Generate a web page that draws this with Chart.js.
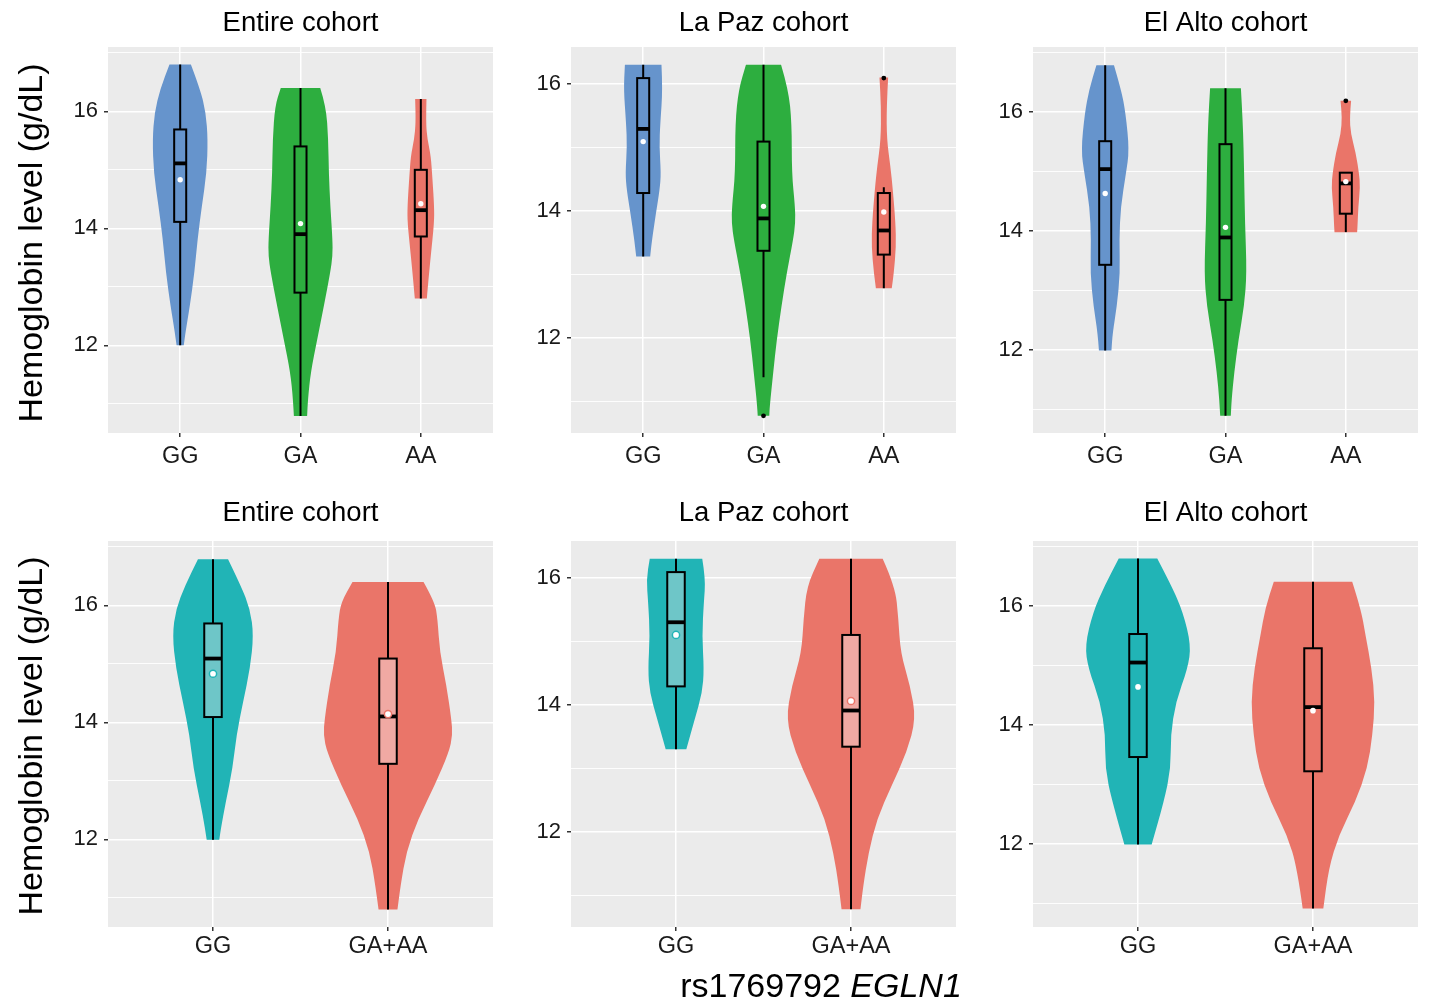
<!DOCTYPE html>
<html lang="en">
<head>
<meta charset="UTF-8">
<title>Hemoglobin level by rs1769792 EGLN1</title>
<script src="https://cdn.jsdelivr.net/npm/chart.js"></script>
<style>
  body { margin: 0; background: #fff; width: 1429px; height: 1003px; position: relative; overflow: hidden;
         font-family: "Liberation Sans", Arial, sans-serif; }
  canvas { position: absolute; }
  .ytitle { position: absolute; left: 30px; font-size: 34px; color: #000; white-space: nowrap;
            transform: translate(-50%, -50%) rotate(-90deg); }
  .xtitle { position: absolute; left: 821px; top: 985px; font-size: 34px; color: #000; white-space: nowrap;
            transform: translate(-50%, -50%); }
</style>
</head>
<body>
<canvas id="c0" width="463" height="480" style="left:40px;top:0px"></canvas>
<canvas id="c1" width="463" height="480" style="left:503px;top:0px"></canvas>
<canvas id="c2" width="463" height="480" style="left:965px;top:0px"></canvas>
<canvas id="c3" width="463" height="480" style="left:40px;top:494px"></canvas>
<canvas id="c4" width="463" height="480" style="left:503px;top:494px"></canvas>
<canvas id="c5" width="463" height="480" style="left:965px;top:494px"></canvas>
<div class="ytitle" style="top:243px">Hemoglobin level (g/dL)</div>
<div class="ytitle" style="top:736px">Hemoglobin level (g/dL)</div>
<div class="xtitle">rs1769792 <i>EGLN1</i></div>

<script>
// ---- data ----
const cohorts = ['Entire cohort', 'La Paz cohort', 'El Alto cohort'];
const genotypes3 = ['GG', 'GA', 'AA'];
const genotypes2 = ['GG', 'GA+AA'];
const yLimits = [[10.5, 17.1], [10.5, 16.58], [10.6, 17.095]];   // per cohort

// violin outlines: hemoglobin level and half-width (category units)
const entire3Levels = [
  [16.80, 16.38, 15.98, 15.52, 14.95, 14.38, 13.81, 13.25, 12.67, 12.22, 12.00],
  [16.40, 16.09, 15.52, 14.95, 14.38, 13.81, 13.53, 13.24, 12.67, 12.10, 11.54, 11.08, 10.79],
  [16.21, 15.81, 15.52, 15.24, 14.84, 14.38, 14.10, 13.53, 13.13, 12.80]
];
const entire3Widths = [
  [0.089, 0.166, 0.213, 0.230, 0.220, 0.180, 0.144, 0.119, 0.080, 0.044, 0.030],
  [0.164, 0.212, 0.231, 0.235, 0.248, 0.266, 0.267, 0.247, 0.194, 0.139, 0.085, 0.062, 0.055],
  [0.047, 0.042, 0.055, 0.083, 0.097, 0.111, 0.111, 0.083, 0.064, 0.050]
];
const lapaz3Levels = [
  [16.30, 15.91, 15.38, 15.01, 14.59, 14.33, 13.96, 13.54, 13.28],
  [16.30, 15.91, 15.38, 14.59, 14.07, 13.81, 13.54, 13.02, 12.49, 11.97, 11.44, 10.92, 10.77],
  [16.10, 15.64, 15.12, 14.70, 14.33, 13.81, 13.44, 13.02, 12.78]
];
const lapaz3Widths = [
  [0.152, 0.162, 0.142, 0.134, 0.148, 0.137, 0.106, 0.073, 0.058],
  [0.146, 0.207, 0.235, 0.235, 0.262, 0.265, 0.246, 0.193, 0.149, 0.110, 0.080, 0.052, 0.048],
  [0.036, 0.023, 0.025, 0.055, 0.075, 0.097, 0.102, 0.083, 0.066]
];
const elalto3Levels = [
  [16.79, 16.37, 15.98, 15.36, 14.97, 14.41, 13.85, 13.29, 12.73, 12.28, 11.99],
  [16.40, 15.81, 14.97, 14.13, 13.29, 12.73, 12.17, 11.61, 11.16, 10.89],
  [16.19, 15.92, 15.64, 15.31, 14.97, 14.74, 14.41, 14.07, 13.98]
];
const elalto3Widths = [
  [0.073, 0.134, 0.170, 0.200, 0.173, 0.129, 0.117, 0.124, 0.097, 0.062, 0.052],
  [0.128, 0.145, 0.155, 0.162, 0.177, 0.155, 0.108, 0.072, 0.051, 0.044],
  [0.044, 0.032, 0.041, 0.083, 0.110, 0.119, 0.104, 0.097, 0.094]
];
const entire2Levels = [
  [16.79, 16.34, 15.94, 15.49, 14.92, 14.35, 13.78, 13.21, 12.64, 12.18, 11.99],
  [16.40, 16.06, 15.77, 15.20, 14.63, 14.06, 13.78, 13.49, 12.92, 12.35, 11.79, 11.21, 10.80]
];
const entire2Widths = [
  [0.086, 0.159, 0.212, 0.232, 0.212, 0.172, 0.134, 0.112, 0.073, 0.045, 0.036],
  [0.203, 0.267, 0.283, 0.296, 0.334, 0.362, 0.369, 0.348, 0.267, 0.172, 0.105, 0.072, 0.054]
];
const lapaz2Levels = [
  [16.30, 15.98, 15.61, 15.09, 14.56, 14.19, 13.77, 13.30],
  [16.30, 15.87, 15.35, 14.82, 14.30, 13.78, 13.25, 12.72, 12.20, 11.67, 11.15, 10.78]
];
const lapaz2Widths = [
  [0.150, 0.169, 0.159, 0.149, 0.160, 0.150, 0.107, 0.059],
  [0.181, 0.252, 0.271, 0.283, 0.338, 0.371, 0.319, 0.231, 0.148, 0.100, 0.070, 0.054]
];
const elalto2Levels = [
  [16.80, 16.35, 15.90, 15.34, 14.95, 14.39, 13.83, 13.27, 12.71, 11.99],
  [16.41, 15.96, 15.51, 14.95, 14.39, 13.83, 13.27, 12.71, 12.15, 11.59, 10.91]
];
const elalto2Widths = [
  [0.110, 0.190, 0.257, 0.303, 0.284, 0.216, 0.186, 0.188, 0.148, 0.078],
  [0.224, 0.273, 0.300, 0.335, 0.354, 0.340, 0.311, 0.243, 0.148, 0.090, 0.059]
];

// boxplot: [lower whisker, Q1, median, Q3, upper whisker]
const entire3Box = [[12.00, 14.11, 15.11, 15.69, 16.80], [10.79, 12.90, 13.90, 15.40, 16.40], [12.80, 13.86, 14.31, 15.00, 16.21]];
const lapaz3Box  = [[13.28, 14.28, 15.29, 16.09, 16.30], [11.38, 13.37, 13.88, 15.09, 16.30], [12.78, 13.31, 13.69, 14.28, 14.37]];
const elalto3Box = [[11.99, 13.43, 15.04, 15.51, 16.79], [10.89, 12.84, 13.89, 15.46, 16.40], [13.98, 14.29, 14.80, 14.98, 14.98]];
const entire2Box = [[11.99, 14.09, 15.09, 15.69, 16.79], [10.80, 13.29, 14.10, 15.09, 16.40]];
const lapaz2Box  = [[13.30, 14.29, 15.30, 16.09, 16.30], [10.78, 13.34, 13.91, 15.10, 16.30]];
const elalto2Box = [[11.99, 13.46, 15.05, 15.53, 16.80], [10.91, 13.22, 14.30, 15.29, 16.41]];

const entire3Means = [14.83, 14.08, 14.42];
const lapaz3Means  = [15.09, 14.07, 13.98];
const elalto3Means = [14.63, 14.06, 14.83];
const entire2Means = [14.83, 14.14];
const lapaz2Means  = [15.10, 14.06];
const elalto2Means = [14.64, 14.24];

const lapaz3Outliers  = [[], [10.77], [16.09]];
const elalto3Outliers = [[], [], [16.19]];

// ---- colours ----
const colors3 = ['#6694CC', '#2DAE3F', '#EA7569'];
const colors2 = ['#21B4B6', '#EA7569'];
const lightBox2 = ['#6EC6C8', '#F0A9A3'];
const FONT = "'Liberation Sans', Arial, sans-serif";

// smooth one side of a violin through its sample points
function smoothSide(ctx, pts, first) {
  if (first) ctx.moveTo(pts[0][0], pts[0][1]); else ctx.lineTo(pts[0][0], pts[0][1]);
  for (let i = 1; i < pts.length - 1; i++) {
    const mx = (pts[i][0] + pts[i + 1][0]) / 2, my = (pts[i][1] + pts[i + 1][1]) / 2;
    ctx.quadraticCurveTo(pts[i][0], pts[i][1], mx, my);
  }
  const last = pts[pts.length - 1];
  ctx.lineTo(last[0], last[1]);
}

function violinPlugin(p) {
  return {
    id: 'violins',
    beforeDraw(chart) {
      const a = chart.chartArea, ctx = chart.ctx;
      ctx.save();
      ctx.fillStyle = '#EBEBEB';
      ctx.fillRect(a.left, a.top, a.right - a.left, a.bottom - a.top);
      ctx.restore();
    },
    beforeDatasetsDraw(chart) {
      const xs = chart.scales.x, ys = chart.scales.y, ctx = chart.ctx;
      ctx.save();
      p.levels.forEach((lv, g) => {
        const cx = g + 1, w = p.widths[g];
        const right = lv.map((y, i) => [xs.getPixelForValue(cx + w[i]), ys.getPixelForValue(y)]);
        const left = lv.map((y, i) => [xs.getPixelForValue(cx - w[i]), ys.getPixelForValue(y)]).reverse();
        ctx.beginPath();
        smoothSide(ctx, right, true);
        smoothSide(ctx, left, false);
        ctx.closePath();
        ctx.fillStyle = p.colors[g];
        ctx.fill();

        // box and whiskers
        const [lo, q1, med, q3, hi] = p.box[g];
        const x0 = xs.getPixelForValue(cx - 0.05), x1 = xs.getPixelForValue(cx + 0.05);
        const xc = xs.getPixelForValue(cx);
        ctx.strokeStyle = '#000';
        ctx.lineWidth = 2;
        ctx.beginPath();
        ctx.moveTo(xc, ys.getPixelForValue(hi)); ctx.lineTo(xc, ys.getPixelForValue(q3));
        ctx.moveTo(xc, ys.getPixelForValue(q1)); ctx.lineTo(xc, ys.getPixelForValue(lo));
        ctx.stroke();
        const yt = ys.getPixelForValue(q3), yb = ys.getPixelForValue(q1);
        ctx.fillStyle = p.boxFills[g];
        ctx.fillRect(x0, yt, x1 - x0, yb - yt);
        ctx.strokeRect(x0, yt, x1 - x0, yb - yt);
        ctx.lineWidth = 3.8;
        ctx.beginPath();
        ctx.moveTo(x0, ys.getPixelForValue(med)); ctx.lineTo(x1, ys.getPixelForValue(med));
        ctx.stroke();
      });
      ctx.restore();
    }
  };
}

function makePanel(id, p) {
  const n = p.groups.length;
  const yMin = p.limits[0], yMax = p.limits[1];
  new Chart(document.getElementById(id), {
    type: 'scatter',
    data: {
      datasets: [
        {
          data: p.means.map((m, i) => ({ x: i + 1, y: m })),
          pointRadius: p.meanRadius,
          pointBackgroundColor: '#fff',
          pointBorderColor: p.meanBorder,
          pointBorderWidth: p.meanBorderWidth
        },
        {
          data: p.outliers.flatMap((o, i) => o.map(v => ({ x: i + 1, y: v }))),
          pointRadius: 2.4,
          pointBackgroundColor: '#000',
          pointBorderWidth: 0
        }
      ]
    },
    options: {
      responsive: false,
      animation: false,
      events: [],
      layout: { padding: { left: 0, right: 10, top: 0, bottom: 0 } },
      plugins: {
        legend: { display: false },
        tooltip: { enabled: false },
        title: {
          display: true, text: p.title, fullSize: false, color: '#000',
          font: { family: FONT, size: 27.5, weight: 'normal', lineHeight: '33px' },
          padding: p.titlePad
        }
      },
      scales: {
        x: {
          type: 'linear', min: 0.4, max: n + 0.6,
          afterBuildTicks: s => { s.ticks = p.groups.map((_, i) => ({ value: i + 1 })); },
          afterFit: s => { s.height = 47; },
          ticks: { callback: v => p.groups[Math.round(v) - 1], color: '#1A1A1A',
                   font: { family: FONT, size: 23.5 }, padding: p.xPad, autoSkip: false, maxRotation: 0 },
          grid: { color: '#fff', lineWidth: 1.5, tickColor: '#333', tickLength: 4, tickWidth: 1.5 },
          border: { display: false }
        },
        y: {
          min: yMin, max: yMax,
          afterBuildTicks: s => {
            const t = [];
            for (let v = Math.ceil(yMin); v <= Math.floor(yMax); v++) t.push({ value: v });
            s.ticks = t;
          },
          afterFit: s => { s.width = 68; },
          ticks: { callback: v => (v % 2 === 0 ? String(v) : ''), color: '#1A1A1A',
                   font: { family: FONT, size: 22 }, padding: 6, autoSkip: false },
          grid: {
            color: '#fff',
            lineWidth: c => (c.tick && c.tick.value % 2 === 0 ? 1.5 : 0.9),
            tickColor: c => (c.tick && c.tick.value % 2 === 0 ? '#333' : 'rgba(0,0,0,0)'),
            tickLength: 4, tickWidth: 1.5
          },
          border: { display: false }
        }
      }
    },
    plugins: [violinPlugin(p)]
  });
}

const none3 = [[], [], []], none2 = [[], []];
const topRow = { titlePad: { top: 7, bottom: 7 }, xPad: 5 };
const bottomRow = { titlePad: { top: 3, bottom: 11 }, xPad: 1 };

makePanel('c0', { ...topRow, title: cohorts[0], groups: genotypes3, limits: yLimits[0], levels: entire3Levels, widths: entire3Widths,
  box: entire3Box, means: entire3Means, outliers: none3, colors: colors3, boxFills: colors3,
  meanRadius: 2.7, meanBorder: '#fff', meanBorderWidth: 0 });
makePanel('c1', { ...topRow, title: cohorts[1], groups: genotypes3, limits: yLimits[1], levels: lapaz3Levels, widths: lapaz3Widths,
  box: lapaz3Box, means: lapaz3Means, outliers: lapaz3Outliers, colors: colors3, boxFills: colors3,
  meanRadius: 2.7, meanBorder: '#fff', meanBorderWidth: 0 });
makePanel('c2', { ...topRow, title: cohorts[2], groups: genotypes3, limits: yLimits[2], levels: elalto3Levels, widths: elalto3Widths,
  box: elalto3Box, means: elalto3Means, outliers: elalto3Outliers, colors: colors3, boxFills: colors3,
  meanRadius: 2.7, meanBorder: '#fff', meanBorderWidth: 0 });
makePanel('c3', { ...bottomRow, title: cohorts[0], groups: genotypes2, limits: yLimits[0], levels: entire2Levels, widths: entire2Widths,
  box: entire2Box, means: entire2Means, outliers: none2, colors: colors2, boxFills: lightBox2,
  meanRadius: 3.6, meanBorder: colors2, meanBorderWidth: 1.5 });
makePanel('c4', { ...bottomRow, title: cohorts[1], groups: genotypes2, limits: yLimits[1], levels: lapaz2Levels, widths: lapaz2Widths,
  box: lapaz2Box, means: lapaz2Means, outliers: none2, colors: colors2, boxFills: lightBox2,
  meanRadius: 3.6, meanBorder: colors2, meanBorderWidth: 1.5 });
makePanel('c5', { ...bottomRow, title: cohorts[2], groups: genotypes2, limits: yLimits[2], levels: elalto2Levels, widths: elalto2Widths,
  box: elalto2Box, means: elalto2Means, outliers: none2, colors: colors2, boxFills: colors2,
  meanRadius: 2.8, meanBorder: '#fff', meanBorderWidth: 0 });
</script>
</body>
</html>
